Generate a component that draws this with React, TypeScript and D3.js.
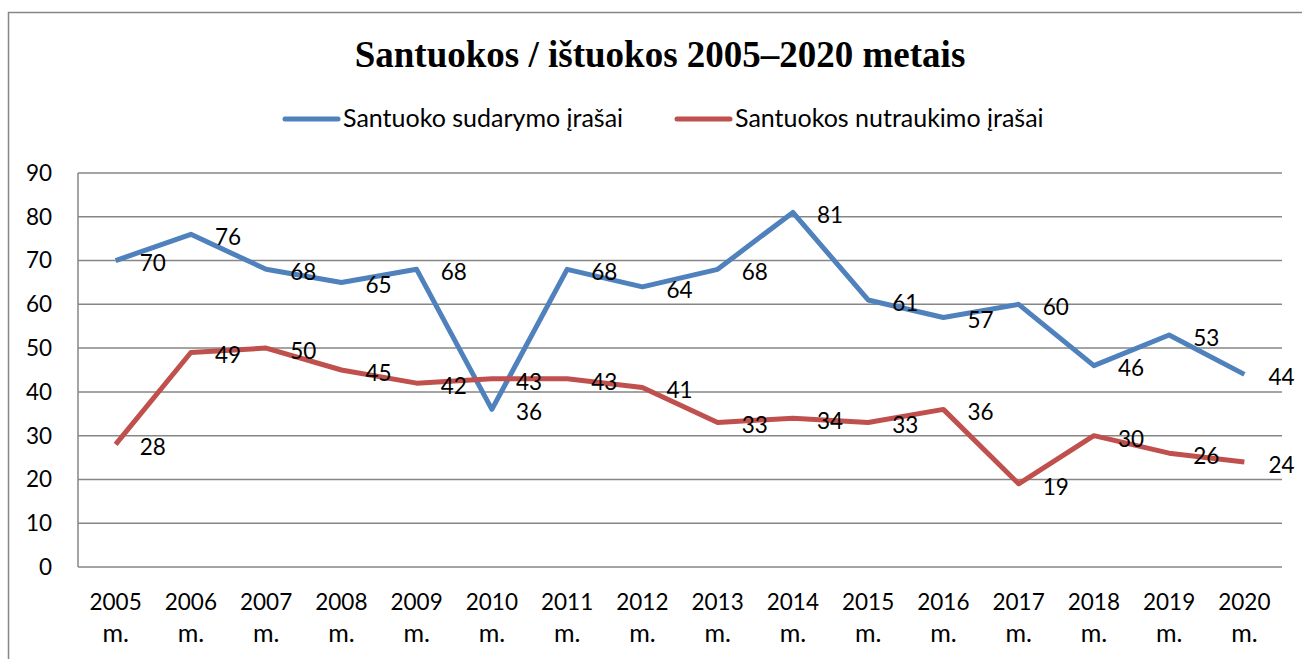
import React from "react";
import * as d3 from "d3";

const years = ["2005","2006","2007","2008","2009","2010","2011","2012","2013","2014","2015","2016","2017","2018","2019","2020"];
const marriages = [70,76,68,65,68,36,68,64,68,81,61,57,60,46,53,44];
const divorces = [28,49,50,45,42,43,43,41,33,34,33,36,19,30,26,24];
const yTicks = [0,10,20,30,40,50,60,70,80,90];
const seriesNames = ["Santuoko sudarymo įrašai", "Santuokos nutraukimo įrašai"];
const seriesColors = ["#4F81BD", "#C0504D"];
const titleText = "Santuokos / ištuokos 2005–2020 metais";

const W = 1302, H = 659;
const left = 78, right = 1282, top = 173, bottom = 567;
const FONT = "Lato, 'Open Sans', sans-serif";
const FS = 22.5;
const LFS = 25;

export default function App() {
  const x = d3.scalePoint<string>().domain(years).range([left, right]).padding(0.5);
  const y = d3.scaleLinear().domain([0, 90]).range([bottom, top]);
  const line = d3.line<number>().x((_, i) => x(years[i])!).y(d => y(d));
  const series = [marriages, divorces];
  const legendX = [283, 675];
  return (
    <svg width={W} height={H} style={{ position: "absolute", left: 0, top: 0, display: "block", background: "#fff" }}>
      <rect x={8.5} y={12.5} width={1400} height={800} fill="#fff" stroke="#868686" strokeWidth={1.5} />
      <text x={660} y={67} textAnchor="middle" fontFamily="'Liberation Serif', 'Times New Roman', serif" fontWeight="bold" fontSize={37}>{titleText}</text>
      {seriesNames.map((n, i) => (
        <g key={n}>
          <line x1={legendX[i] + 2} x2={legendX[i] + 55} y1={119} y2={119} stroke={seriesColors[i]} strokeWidth={5} strokeLinecap="round" />
          <text x={legendX[i] + 60} y={127} fontFamily={FONT} fontSize={LFS} fill="#000">{n}</text>
        </g>
      ))}
      {yTicks.map(t => (
        <g key={t}>
          <line x1={left} x2={right} y1={y(t)} y2={y(t)} stroke="#868686" strokeWidth={1.5} />
          <text x={52} y={y(t)} dy="0.35em" textAnchor="end" fontFamily={FONT} fontSize={FS}>{t}</text>
        </g>
      ))}
      <line x1={left} x2={left} y1={top} y2={bottom} stroke="#868686" strokeWidth={1.5} />
      {years.map(yr => (
        <g key={yr}>
          <text x={x(yr)} y={610} textAnchor="middle" fontFamily={FONT} fontSize={FS}>{yr}</text>
          <text x={x(yr)} y={642} textAnchor="middle" fontFamily={FONT} fontSize={LFS}>m.</text>
        </g>
      ))}
      {series.map((s, i) => (
        <path key={i} d={line(s)!} fill="none" stroke={seriesColors[i]} strokeWidth={5} strokeLinejoin="round" />
      ))}
      {series.map((s, i) => s.map((v, j) => (
        <text key={`${i}-${j}`} x={x(years[j])! + 24} y={y(v) + 3} dy="0.35em" fontFamily={FONT} fontSize={FS}>{v}</text>
      )))}
    </svg>
  );
}
